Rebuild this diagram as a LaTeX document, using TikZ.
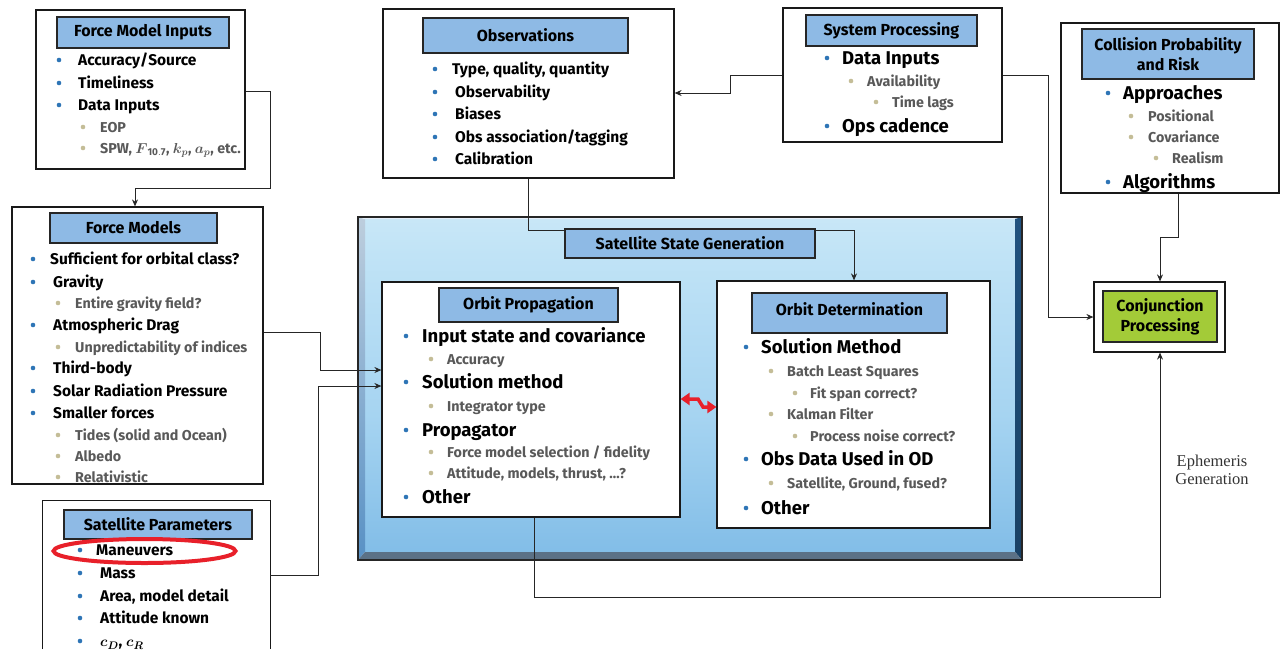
\documentclass[tikz,border=0pt]{standalone}
\usepackage{amsmath}
\usepackage{fontspec}
\setmainfont{Fira Sans}
\newfontfamily\serifft{Liberation Serif}
\usetikzlibrary{arrows.meta,calc}
\definecolor{hdrblue}{HTML}{8EBAE5}
\definecolor{bulblue}{HTML}{2E75B6}
\definecolor{bulbeige}{HTML}{C4BD97}
\definecolor{subgrey}{HTML}{595959}
\definecolor{conjgreen}{HTML}{A3CB38}
\definecolor{redarr}{HTML}{E8202A}
\definecolor{gA}{HTML}{92CCEE}
\definecolor{gB}{HTML}{78B7E5}
\definecolor{gC}{HTML}{72B3E3}
\definecolor{gD}{HTML}{A6D4F1}
\definecolor{gE}{HTML}{C0E3F6}
\definecolor{gF}{HTML}{DCF0FA}
\definecolor{gG}{HTML}{F2FAFE}
\pgfdeclareverticalshading{ssgshade}{100bp}{color(0bp)=(gA); color(6.6bp)=(gB); color(15.6bp)=(gC); color(45.6bp)=(gD); color(69.6bp)=(gE); color(87.7bp)=(gF); color(100bp)=(gG)}
\newcounter{itm}
\newcommand\bul[5]{%
  \stepcounter{itm}%
  \fill[bul#1] (#2,#4) circle[radius=2.3pt];
  \node[txt#1, anchor=mid west] (it\theitm) at (#3,#4) {#5};}
\begin{document}
\begin{tikzpicture}[x=1pt,y=-1pt,
  box/.style={draw=black!90, line width=1.2pt, fill=white, inner sep=0pt},
  hdr/.style={draw=black!85, line width=1.3pt, fill=hdrblue, inner sep=0pt, align=center,
    font=\bfseries\fontsize{16}{20}\selectfont},
  txtA/.style={inner sep=0pt, yshift=-3pt, font=\bfseries\fontsize{15.5}{17}\selectfont},
  txtL/.style={inner sep=0pt, yshift=-3.5pt, font=\bfseries\fontsize{18.5}{20}\selectfont},
  txtB/.style={inner sep=0pt, yshift=-2.5pt, text=subgrey, font=\bfseries\fontsize{14.3}{16}\selectfont},
  bulA/.style={fill=bulblue}, bulL/.style={fill=bulblue}, bulB/.style={fill=bulbeige},
  conn/.style={line width=1pt, draw=black!85},
  arr/.style={conn, -{Stealth[length=7pt,width=6pt]}},
]
\useasboundingbox (0,0) rectangle (1280,649);

% ---------- Satellite State Generation frame ----------
\shade[shading=ssgshade] (365,219) rectangle (1015,552);
\shade[top color=black!22!bulblue!30, bottom color=bulblue!80] (358,217) -- (365,219) -- (365,552) -- (358,560) -- cycle;
\fill[hdrblue!25] (358,217) -- (1022,217) -- (1015,219) -- (365,219) -- cycle;
\shade[top color=bulblue!70!black, bottom color=bulblue!55!black] (1022,217) -- (1022,560) -- (1015,552) -- (1015,219) -- cycle;
\fill[bulblue!45!black!70] (358,560) -- (1022,560) -- (1015,552) -- (365,552) -- cycle;
\draw[line width=1.2pt, black!85] (358,217) rectangle (1022,560);

% ---------- boxes ----------
\node[box, minimum width=209, minimum height=159] (fmi) at (140.5,89.5) {};
\node[hdr, minimum width=172, minimum height=31] (fmiH) at (143,32.5) {Force Model Inputs};
\node[box, minimum width=251, minimum height=277] (fm) at (137.5,345.5) {};
\node[hdr, minimum width=167, minimum height=30] (fmH) at (133.5,228) {Force Models};
\node[inner sep=0pt, fill=white, minimum width=227, minimum height=148] (sp) at (156.5,575) {};
\draw[line width=1.2pt, black!90] (sp.south west) -- (sp.north west) -- (sp.north east) -- (sp.south east);
\node[hdr, minimum width=188, minimum height=29] (spH) at (158,524.5) {Satellite Parameters};
\node[box, minimum width=291, minimum height=169] (obs) at (528.5,93.5) {};
\node[hdr, minimum width=205, minimum height=35] (obsH) at (525.5,35.5) {Observations};
\node[box, minimum width=219, minimum height=134] (sys) at (892.5,75) {};
\node[hdr, minimum width=171, minimum height=31] (sysH) at (891.5,30.5) {System Processing};
\node[box, minimum width=218, minimum height=170] (col) at (1170,108) {};
\node[hdr, minimum width=172, minimum height=50] (colH) at (1168,54) {Collision Probability\\and Risk};
\node[box, minimum width=131, minimum height=70] (conj) at (1159.5,317) {};
\node[hdr, fill=conjgreen, minimum width=114, minimum height=51] (conjG) at (1160,316.5) {Conjunction\\Processing};
\node[hdr, minimum width=250, minimum height=29] (ssgH) at (690,243.5) {Satellite State Generation};
\node[box, minimum width=298, minimum height=235] (op) at (531,399.5) {};
\node[hdr, minimum width=179, minimum height=34] (opH) at (528.5,305) {Orbit Propagation};
\node[box, minimum width=273, minimum height=247] (od) at (853.5,404.5) {};
\node[hdr, minimum width=195, minimum height=40, text depth=8pt] (odH) at (849.5,313) {Orbit Determination};

% ---------- items ----------
\bul{A}{59}{78}{60}{Accuracy/Source}
\bul{A}{59}{78}{83}{Timeliness}
\bul{A}{59}{78}{105}{Data Inputs}
\bul{B}{83}{100}{127}{EOP}
\bul{B}{83}{100}{148}{SPW, $\boldsymbol{F}_{\mathbf{10.7}}$, $\boldsymbol{k_p}$, $\boldsymbol{a_p}$, etc.}

\bul{A}{33}{50}{259}{Sufficient for orbital class?}
\bul{A}{33}{53}{282}{Gravity}
\bul{B}{58}{75}{303}{Entire gravity field?}
\bul{A}{33}{53}{325}{Atmospheric Drag}
\bul{B}{58}{75}{347}{Unpredictability of indices}
\bul{A}{33}{53}{368}{Third-body}
\bul{A}{33}{53}{391}{Solar Radiation Pressure}
\bul{A}{33}{53}{413}{Smaller forces}
\bul{B}{58}{75}{435}{Tides (solid and Ocean)}
\bul{B}{58}{75}{456}{Albedo}
\bul{B}{58}{75}{477}{Relativistic}

\bul{A}{80}{96}{550}{Maneuvers}
\bul{A}{80}{100}{573}{Mass}
\bul{A}{80}{100}{596}{Area, model detail}
\bul{A}{80}{100}{618}{Attitude known}
\bul{A}{80}{100}{641}{$\boldsymbol{c_D}$, $\boldsymbol{c_R}$}

\bul{A}{435}{452}{69}{Type, quality, quantity}
\bul{A}{435}{455}{92}{Observability}
\bul{A}{435}{455}{114}{Biases}
\bul{A}{435}{455}{137}{Obs association/tagging}
\bul{A}{435}{455}{159}{Calibration}

\bul{L}{827}{842}{58}{Data Inputs}
\bul{B}{851}{867}{81}{Availability}
\bul{B}{876}{892}{102}{Time lags}
\bul{L}{827}{842}{126}{Ops cadence}

\bul{L}{1108}{1123}{93}{Approaches}
\bul{B}{1131}{1148}{116}{Positional}
\bul{B}{1131}{1148}{137}{Covariance}
\bul{B}{1156}{1172}{158}{Realism}
\bul{L}{1108}{1123}{182}{Algorithms}

\bul{L}{406}{422}{336}{Input state and covariance}
\bul{B}{431}{447}{359}{Accuracy}
\bul{L}{406}{422}{382}{Solution method}
\bul{B}{431}{447}{406}{Integrator type}
\bul{L}{406}{422}{430}{Propagator}
\bul{B}{431}{447}{452}{Force model selection / fidelity}
\bul{B}{431}{447}{473}{Attitude, models, thrust, \dots?}
\bul{L}{406}{422}{497}{Other}

\bul{L}{746}{761}{347}{Solution Method}
\bul{B}{771}{787}{371}{Batch Least Squares}
\bul{B}{795}{810}{393}{Fit span correct?}
\bul{B}{771}{787}{414}{Kalman Filter}
\bul{B}{795}{810}{436}{Process noise correct?}
\bul{L}{746}{761}{459}{Obs Data Used in OD}
\bul{B}{771}{787}{483}{Satellite, Ground, fused?}
\bul{L}{746}{761}{508}{Other}

% red ellipse
\draw[redarr, line width=4pt] (144.5,551) ellipse [x radius=91pt, y radius=12pt];

\node[font=\serifft\fontsize{16.5}{18}\selectfont, text=black!80, align=center, inner sep=0pt] (eph) at (1212,470) {Ephemeris\\Generation};

% ---------- connectors ----------
\coordinate (w1) at (270,91);
\coordinate (w2) at (270,188);
\coordinate (w3) at (135,188);
\draw[arr] (fmi.east |- w1) -- (w1) -- (w2) -- (w3) -- (w3 |- fm.north);

\coordinate (w4) at (320,332);
\coordinate (w5) at (320,370);
\draw[arr] (fm.east |- w4) -- (w4) -- (w5) -- (op.west |- w5);

\coordinate (w6) at (318,575);
\coordinate (w7) at (318,386);
\draw[arr] (sp.east |- w6) -- (w6) -- (w7) -- (op.west |- w7);

\coordinate (w8) at (730,75);
\coordinate (w9) at (730,93);
\draw[arr] (sys.west |- w8) -- (w8) -- (w9) -- (obs.east |- w9);

\coordinate (w10) at (528,230);
\draw[conn] (w10 |- obs.south) -- (w10) -- (ssgH.west |- w10);

\coordinate (w11) at (854,230);
\draw[arr] (ssgH.east |- w11) -- (w11) -- (w11 |- od.north);

\coordinate (w12) at (1048,75);
\coordinate (w13) at (1048,317);
\draw[arr] (sys.east |- w12) -- (w12) -- (w13) -- (conj.west |- w13);

\coordinate (w14) at (1178,237);
\coordinate (w15) at (1160,237);
\draw[arr] (w14 |- col.south) -- (w14) -- (w15) -- (w15 |- conj.north);

\coordinate (w16) at (534,597);
\coordinate (w17) at (1160,597);
\draw[arr] (w16 |- op.south) -- (w16) -- (w17) -- (w17 |- conj.south);

\coordinate (za) at (698,399);
\coordinate (zb) at (703,407);
\draw[redarr, line width=3.5pt, {Triangle[length=9pt,width=12pt]}-{Triangle[length=9pt,width=12pt]}] (op.east |- za) -- (za) -- (zb) -- (od.west |- zb);
\end{tikzpicture}
\end{document}
